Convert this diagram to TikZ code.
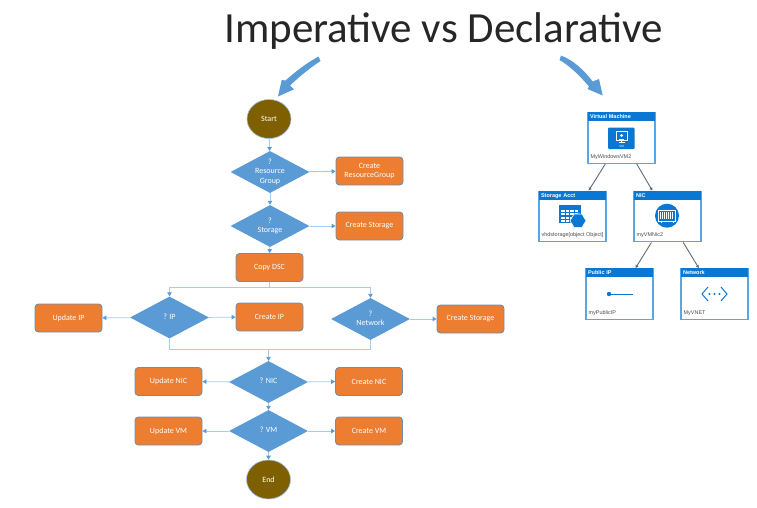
\documentclass[tikz,border=0pt]{standalone}
\usepackage{fontspec}
\setmainfont{Carlito}
\newfontfamily\azfont{Liberation Sans}
\usetikzlibrary{shapes.geometric,arrows.meta}
\definecolor{flowblue}{HTML}{5B9BD5}
\definecolor{flowline}{HTML}{A9CBEA}
\definecolor{floworange}{HTML}{ED7D31}
\definecolor{flowedge}{HTML}{6F8FAF}
\definecolor{flowbrown}{HTML}{7F6000}
\definecolor{azblue}{HTML}{0A78D2}
\definecolor{azedge}{HTML}{58A6E6}
\definecolor{azlink}{HTML}{5F6B78}
\newcommand{\dtext}[1]{\smash{\makebox[0pt]{\raisebox{-2pt}{\begin{tabular}{@{}c@{}}#1\end{tabular}}}}}
\tikzset{
  x=1pt,y=-1pt,
  flowtext/.style={font=\fontsize{8}{9.5}\selectfont,text=white},
  dec/.style={diamond,fill=flowblue,draw=none,flowtext,inner sep=0pt,minimum width=79pt,minimum height=42pt,shape aspect=1.88},
  proc/.style={rectangle,rounded corners=3.5pt,fill=floworange,draw=flowedge,line width=0.9pt,flowtext,inner sep=0pt,align=center,minimum width=67pt,minimum height=28pt},
  term/.style={ellipse,fill=flowbrown,draw=flowblue!60!white,line width=0.6pt,flowtext,inner sep=0pt,minimum width=44pt,minimum height=39pt},
  conn/.style={draw=flowline,line width=0.9pt},
  flow/.style={conn,-{Triangle[length=4pt,width=4.5pt,fill=flowblue,color=flowblue]}},
  azbox/.style={rectangle,draw=azedge,fill=white,line width=1.3pt,minimum width=67pt,minimum height=50.5pt,inner sep=0pt},
  azhead/.style={rectangle,fill=azblue,text=white,anchor=north west,text width=62pt,text height=5.4pt,text depth=1.2pt,minimum height=9pt,inner sep=0pt,inner xsep=2.5pt,font=\azfont\bfseries\fontsize{5.5}{6}\selectfont,align=left},
  azcap/.style={anchor=west,inner sep=0pt,text=black!70,font=\azfont\fontsize{5.45}{6}\selectfont},
  azlinkstyle/.style={draw=azlink,line width=0.9pt,-{Triangle[length=3pt,width=3pt]}},
  bigarrow/.style={fill=flowblue,draw=none},
}
\begin{document}
\begin{tikzpicture}
\useasboundingbox (0,0) rectangle (757,507);
\node[font=\fontsize{43}{47}\selectfont,text=black!85,inner sep=0pt] (title) at (443.5,31.5) {Imperative vs Declarative};

% big arrows
\fill[bigarrow] (318.5,56.5) .. controls (305,64) and (295,72) .. (285.5,80.5) -- (281.7,80) -- (278,96.5) -- (294,89.3) -- (290,85.5) .. controls (300,76) and (310,68) .. (320.5,61) -- cycle;
\fill[bigarrow] (561,55.5) .. controls (573,60) and (584,70) .. (592.7,81.5) -- (599,79) -- (602.7,95.5) -- (587.5,89) -- (589,86.5) .. controls (580,76) and (570,66) .. (559.5,60) -- cycle;

% flowchart nodes
\node[term] (start) at (269,119) {Start};
\node[dec] (rg) at (270,172) {\dtext{?\\Resource\\Group}};
\node[proc] (crg) at (369.5,171) {Create\\ResourceGroup};
\node[dec] (st) at (270,226) {\dtext{?\\Storage}};
\node[proc] (cst) at (369.5,226) {Create Storage};
\node[proc] (copy) at (269.5,267.5) {Copy DSC};
\node[dec] (ip) at (169.5,317.5) {\dtext{? IP}};
\node[proc] (uip) at (68.5,318) {Update IP};
\node[proc] (cip) at (269.5,317) {Create IP};
\node[dec] (net) at (370.5,319) {\dtext{?\\Network}};
\node[proc] (cst2) at (470.5,319) {Create Storage};
\node[dec] (nic) at (268.5,382) {\dtext{? NIC}};
\node[proc] (unic) at (168.5,381.5) {Update NIC};
\node[proc] (cnic) at (369,381.5) {Create NIC};
\node[dec] (vm) at (268.5,431) {\dtext{? VM}};
\node[proc] (uvm) at (168.5,431) {Update VM};
\node[proc] (cvm) at (369,431) {Create VM};
\node[term] (end) at (268.5,479.5) {End};
\coordinate (bust) at (269.5,287);
\coordinate (busb) at (268.5,349);

% flowchart connectors
\draw[flow] (start) -- (rg);
\draw[flow] (rg) -- (st);
\draw[flow] (st) -- (copy);
\draw[flow] (rg) -- (crg);
\draw[flow] (st) -- (cst);
\draw[conn] (copy) -- (bust);
\draw[flow] (bust) -| (ip);
\draw[flow] (bust) -| (net);
\draw[flow] (ip) -- (uip);
\draw[flow] (ip) -- (cip);
\draw[flow] (net) -- (cst2);
\draw[conn] (ip) |- (busb);
\draw[conn] (net) |- (busb);
\draw[flow] (busb) -- (nic);
\draw[flow] (nic) -- (unic);
\draw[flow] (nic) -- (cnic);
\draw[flow] (nic) -- (vm);
\draw[flow] (vm) -- (uvm);
\draw[flow] (vm) -- (cvm);
\draw[flow] (vm) -- (end);

% resource boxes
\node[azbox] (bvm) at (621.5,138) {};
\node[azbox] (bst) at (572.5,216.5) {};
\node[azbox] (bnic) at (667.5,216.5) {};
\node[azbox] (bip) at (619.5,294) {};
\node[azbox] (bnet) at (714.5,294) {};
\node[azhead] (hvm) at (bvm.north west) {Virtual Machine};
\node[azhead] (hst) at (bst.north west) {Storage Acct};
\node[azhead] (hnic) at (bnic.north west) {NIC};
\node[azhead] (hip) at (bip.north west) {Public IP};
\node[azhead] (hnet) at (bnet.north west) {Network};
\node[azcap] (cvmn) at (590.5,157.5) {MyWindowsVM2};
\node[azcap] (cstn) at (541.5,235.5) {vhdstorage[object Object]};
\node[azcap] (cnicn) at (636.5,235.5) {myVMNic2};
\node[azcap] (cipn) at (588.5,313) {myPublicIP};
\node[azcap] (cnetn) at (683.5,313) {MyVNET};
\draw[azlinkstyle] (bvm) -- (bst);
\draw[azlinkstyle] (bvm) -- (bnic);
\draw[azlinkstyle] (bnic) -- (bip);
\draw[azlinkstyle] (bnic) -- (bnet);

% VM icon
\fill[azblue,rounded corners=1pt] (608,127.7) rectangle (634.5,149);
\draw[white,line width=0.8pt] (616,131.5) rectangle (627,140);
\fill[white] (621.5,135.5) circle (1.6);
\fill[white] (619,138.8) rectangle (624,139.5);
\draw[white,line width=0.8pt] (621.5,140) -- (621.5,142.5) (618.5,142.5) -- (624.5,142.5);
\node[inner sep=0pt,text=white,font=\azfont\fontsize{3}{3}\selectfont] (vmic) at (621.5,146) {VM};

% storage icon
\fill[azblue] (559,205) rectangle (581,223);
\foreach \gx in {561,565.5,570,574.5}
  \foreach \gy in {209.5,213,216.5,220}
    \fill[white] (\gx,\gy) rectangle +(3.5,2.4);
\fill[azblue,draw=white,line width=0.6pt] (586,220.7) -- (582,227.4) -- (574,227.4) -- (570,220.7) -- (574,214) -- (582,214) -- cycle;

% NIC icon
\fill[azblue] (667,215.7) circle (12);
\draw[white,line width=0.6pt] (658.5,210) rectangle (675.5,221);
\foreach \nx in {660.5,662.5,...,674}
  \draw[white,line width=0.4pt] (\nx,212) -- (\nx,219);
\draw[white,line width=0.6pt] (661,221) -- (661,223) (673,221) -- (673,223);

% public IP icon
\fill[azblue] (609,294) circle (2.2);
\draw[azblue,line width=0.8pt] (609,294) -- (633,294);

% network icon
\draw[azblue,line width=1pt] (708,287) -- (702,294) -- (708,301) (721,287) -- (727,294) -- (721,301);
\foreach \dx in {709.5,714.5,719.5} \fill[azblue] (\dx,294) circle (1.2);
\end{tikzpicture}
\end{document}
